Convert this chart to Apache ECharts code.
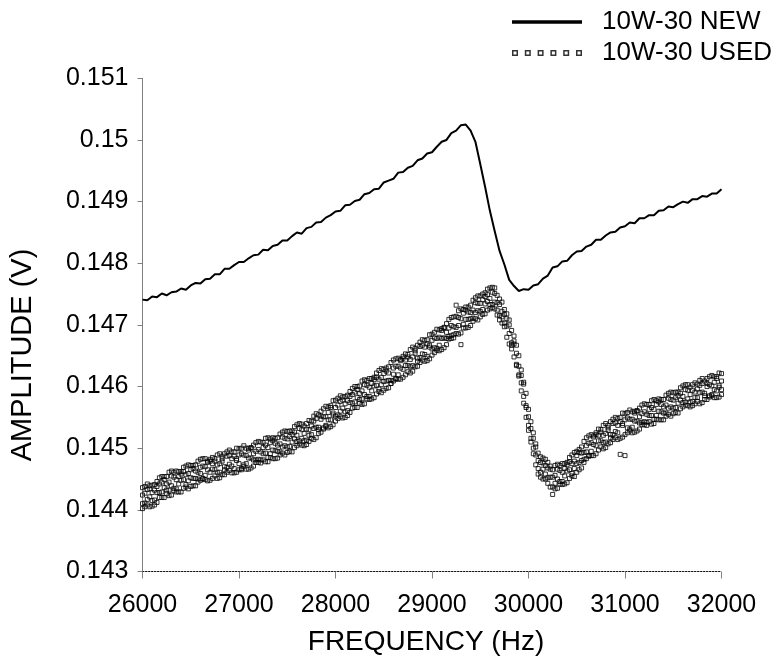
<!DOCTYPE html>
<html>
<head>
<meta charset="utf-8">
<script src="https://cdn.jsdelivr.net/npm/echarts@6/dist/echarts.min.js"></script>
<style>
html,body{margin:0;padding:0;background:#fff;}
#chart{width:783px;height:663px;}
</style>
</head>
<body>
<div id="chart"></div>
<script>
// ---- data ----
var seriesNames = ['10W-30 NEW', '10W-30 USED'];
var xTicks = [26000, 27000, 28000, 29000, 30000, 31000, 32000];
var yTicks = [0.143, 0.144, 0.145, 0.146, 0.147, 0.148, 0.149, 0.15, 0.151];

var newFreq = [26000,26050,26100,26150,26200,26250,26300,26350,26400,26450,
26500,26550,26600,26650,26700,26750,26800,26850,26900,26950,
27000,27050,27100,27150,27200,27250,27300,27350,27400,27450,
27500,27550,27600,27650,27700,27750,27800,27850,27900,27950,
28000,28050,28100,28150,28200,28250,28300,28350,28400,28450,
28500,28550,28600,28650,28700,28750,28800,28850,28900,28950,
29000,29050,29100,29150,29200,29250,29300,29350,29400,29450,
29500,29550,29600,29650,29700,29750,29800,29850,29900,29950,
30000,30050,30100,30150,30200,30250,30300,30350,30400,30450,
30500,30550,30600,30650,30700,30750,30800,30850,30900,30950,
31000,31050,31100,31150,31200,31250,31300,31350,31400,31450,
31500,31550,31600,31650,31700,31750,31800,31850,31900,31950,
32000];

var newAmp = [0.14741,0.14740,0.14746,0.14745,0.14751,0.14748,0.14753,0.14754,0.14759,0.14757,
0.14764,0.14768,0.14767,0.14774,0.14775,0.14782,0.14782,0.14791,0.14791,0.14797,
0.14802,0.14802,0.14808,0.14813,0.14814,0.14822,0.14821,0.14828,0.14830,0.14837,
0.14837,0.14844,0.14850,0.14848,0.14857,0.14859,0.14866,0.14867,0.14874,0.14878,
0.14884,0.14885,0.14894,0.14895,0.14901,0.14903,0.14912,0.14914,0.14920,0.14921,
0.14931,0.14934,0.14937,0.14947,0.14948,0.14955,0.14958,0.14967,0.14970,0.14978,
0.14980,0.14989,0.14997,0.15000,0.15011,0.15015,0.15024,0.15025,0.15015,0.14997,
0.14961,0.14924,0.14885,0.14852,0.14820,0.14798,0.14773,0.14763,0.14755,0.14758,
0.14757,0.14764,0.14766,0.14775,0.14780,0.14793,0.14795,0.14803,0.14804,0.14813,
0.14819,0.14820,0.14827,0.14830,0.14838,0.14838,0.14845,0.14850,0.14851,0.14858,
0.14860,0.14866,0.14865,0.14873,0.14873,0.14878,0.14878,0.14885,0.14886,0.14892,
0.14891,0.14896,0.14900,0.14898,0.14904,0.14904,0.14909,0.14908,0.14913,0.14913,
0.14920];

var usedFreq = [26000,26025,26050,26075,26100,26125,26150,26175,26200,26225,
26250,26275,26300,26325,26350,26375,26400,26425,26450,26475,
26500,26525,26550,26575,26600,26625,26650,26675,26700,26725,
26750,26775,26800,26825,26850,26875,26900,26925,26950,26975,
27000,27025,27050,27075,27100,27125,27150,27175,27200,27225,
27250,27275,27300,27325,27350,27375,27400,27425,27450,27475,
27500,27525,27550,27575,27600,27625,27650,27675,27700,27725,
27750,27775,27800,27825,27850,27875,27900,27925,27950,27975,
28000,28025,28050,28075,28100,28125,28150,28175,28200,28225,
28250,28275,28300,28325,28350,28375,28400,28425,28450,28475,
28500,28525,28550,28575,28600,28625,28650,28675,28700,28725,
28750,28775,28800,28825,28850,28875,28900,28925,28950,28975,
29000,29025,29050,29075,29100,29125,29150,29175,29200,29225,
29250,29275,29300,29325,29350,29375,29400,29425,29450,29475,
29500,29525,29550,29575,29600,29625,29650,29675,29700,29725,
29750,29775,29800,29825,29850,29875,29900,29925,29950,29975,
30000,30025,30050,30075,30100,30125,30150,30175,30200,30225,
30250,30275,30300,30325,30350,30375,30400,30425,30450,30475,
30500,30525,30550,30575,30600,30625,30650,30675,30700,30725,
30750,30775,30800,30825,30850,30875,30900,30925,30950,30975,
31000,31025,31050,31075,31100,31125,31150,31175,31200,31225,
31250,31275,31300,31325,31350,31375,31400,31425,31450,31475,
31500,31525,31550,31575,31600,31625,31650,31675,31700,31725,
31750,31775,31800,31825,31850,31875,31900,31925,31950,31975,
32000];

// four readings of the used oil at each frequency
var usedAmpA = [0.14424,0.14411,0.14433,0.14421,0.14428,0.14416,0.14438,0.14428,0.14445,0.14436,
0.14432,0.14445,0.14455,0.14435,0.14449,0.14442,0.14458,0.14449,0.14441,0.14459,
0.14452,0.14467,0.14451,0.14461,0.14469,0.14451,0.14470,0.14477,0.14461,0.14466,
0.14479,0.14461,0.14475,0.14479,0.14465,0.14487,0.14474,0.14471,0.14487,0.14480,
0.14475,0.14491,0.14473,0.14488,0.14484,0.14500,0.14481,0.14495,0.14482,0.14494,
0.14501,0.14492,0.14485,0.14509,0.14497,0.14508,0.14495,0.14507,0.14518,0.14504,
0.14515,0.14503,0.14522,0.14515,0.14511,0.14532,0.14516,0.14512,0.14531,0.14530,
0.14522,0.14544,0.14534,0.14534,0.14552,0.14533,0.14551,0.14558,0.14546,0.14557,
0.14566,0.14554,0.14576,0.14565,0.14572,0.14561,0.14584,0.14573,0.14591,0.14582,
0.14579,0.14593,0.14603,0.14584,0.14599,0.14593,0.14611,0.14602,0.14596,0.14615,
0.14608,0.14625,0.14610,0.14605,0.14630,0.14613,0.14633,0.14642,0.14628,0.14634,
0.14648,0.14632,0.14648,0.14654,0.14641,0.14665,0.14653,0.14652,0.14669,0.14664,
0.14661,0.14679,0.14662,0.14680,0.14678,0.14695,0.14678,0.14695,0.14683,0.14697,
0.14732,0.14699,0.14668,0.14719,0.14709,0.14721,0.14710,0.14724,0.14736,0.14723,
0.14735,0.14725,0.14746,0.14738,0.14733,0.14753,0.14737,0.14724,0.14733,0.14722,
0.14703,0.14710,0.14686,0.14671,0.14674,0.14636,0.14633,0.14618,0.14584,0.14569,
0.14551,0.14516,0.14516,0.14489,0.14480,0.14461,0.14476,0.14458,0.14468,0.14453,
0.14425,0.14456,0.14466,0.14446,0.14461,0.14455,0.14473,0.14465,0.14459,0.14479,
0.14475,0.14493,0.14480,0.14493,0.14504,0.14488,0.14509,0.14518,0.14504,0.14512,
0.14526,0.14509,0.14524,0.14529,0.14517,0.14540,0.14527,0.14525,0.14543,0.14537,
0.14488,0.14549,0.14531,0.14547,0.14544,0.14560,0.14541,0.14556,0.14543,0.14555,
0.14563,0.14553,0.14547,0.14571,0.14560,0.14571,0.14557,0.14570,0.14581,0.14567,
0.14578,0.14566,0.14585,0.14578,0.14574,0.14595,0.14580,0.14575,0.14594,0.14591,
0.14582,0.14602,0.14591,0.14589,0.14605,0.14585,0.14601,0.14607,0.14593,0.14602,
0.14609];

var usedAmpB = [0.14410,0.14427,0.14417,0.14434,0.14415,0.14432,0.14428,0.14442,0.14429,0.14449,
0.14442,0.14432,0.14439,0.14453,0.14434,0.14454,0.14448,0.14462,0.14457,0.14447,
0.14465,0.14451,0.14463,0.14450,0.14459,0.14471,0.14456,0.14465,0.14479,0.14475,
0.14465,0.14473,0.14461,0.14483,0.14470,0.14469,0.14488,0.14483,0.14467,0.14483,
0.14489,0.14465,0.14489,0.14475,0.14497,0.14484,0.14491,0.14481,0.14498,0.14481,
0.14491,0.14505,0.14501,0.14491,0.14512,0.14496,0.14505,0.14494,0.14502,0.14516,
0.14502,0.14519,0.14510,0.14526,0.14521,0.14512,0.14530,0.14524,0.14513,0.14521,
0.14536,0.14532,0.14548,0.14530,0.14547,0.14551,0.14537,0.14546,0.14566,0.14554,
0.14552,0.14570,0.14560,0.14578,0.14559,0.14577,0.14574,0.14587,0.14575,0.14595,
0.14589,0.14580,0.14587,0.14602,0.14584,0.14605,0.14601,0.14615,0.14612,0.14603,
0.14621,0.14609,0.14622,0.14610,0.14620,0.14633,0.14619,0.14630,0.14646,0.14643,
0.14634,0.14644,0.14634,0.14658,0.14646,0.14647,0.14667,0.14664,0.14649,0.14667,
0.14675,0.14663,0.14678,0.14667,0.14691,0.14679,0.14688,0.14681,0.14699,0.14684,
0.14696,0.14712,0.14710,0.14701,0.14724,0.14709,0.14720,0.14711,0.14720,0.14735,
0.14722,0.14741,0.14734,0.14749,0.14743,0.14733,0.14751,0.14736,0.14715,0.14713,
0.14717,0.14698,0.14700,0.14667,0.14669,0.14654,0.14619,0.14606,0.14604,0.14566,
0.14537,0.14532,0.14500,0.14502,0.14467,0.14477,0.14466,0.14472,0.14452,0.14466,
0.14453,0.14443,0.14450,0.14464,0.14446,0.14467,0.14463,0.14478,0.14475,0.14467,
0.14488,0.14477,0.14492,0.14482,0.14494,0.14508,0.14495,0.14506,0.14522,0.14521,
0.14512,0.14521,0.14510,0.14533,0.14522,0.14522,0.14541,0.14537,0.14490,0.14540,
0.14546,0.14533,0.14547,0.14534,0.14557,0.14544,0.14551,0.14542,0.14559,0.14542,
0.14553,0.14566,0.14563,0.14553,0.14575,0.14559,0.14567,0.14557,0.14565,0.14579,
0.14565,0.14582,0.14573,0.14589,0.14584,0.14575,0.14594,0.14587,0.14576,0.14582,
0.14596,0.14590,0.14605,0.14585,0.14600,0.14603,0.14587,0.14595,0.14613,0.14599,
0.14595];

var usedAmpC = [0.14436,0.14405,0.14442,0.14405,0.14440,0.14408,0.14446,0.14420,0.14454,0.14420,
0.14454,0.14423,0.14463,0.14431,0.14463,0.14429,0.14462,0.14435,0.14471,0.14434,
0.14472,0.14439,0.14473,0.14445,0.14482,0.14450,0.14483,0.14447,0.14482,0.14451,
0.14483,0.14451,0.14491,0.14457,0.14491,0.14461,0.14497,0.14460,0.14494,0.14461,
0.14499,0.14467,0.14504,0.14466,0.14500,0.14468,0.14505,0.14477,0.14511,0.14476,
0.14509,0.14478,0.14517,0.14485,0.14517,0.14483,0.14517,0.14489,0.14526,0.14489,
0.14527,0.14495,0.14528,0.14501,0.14538,0.14507,0.14539,0.14504,0.14540,0.14511,
0.14544,0.14514,0.14556,0.14524,0.14560,0.14531,0.14568,0.14533,0.14569,0.14538,
0.14578,0.14548,0.14585,0.14549,0.14584,0.14553,0.14592,0.14565,0.14600,0.14566,
0.14601,0.14571,0.14611,0.14580,0.14613,0.14580,0.14615,0.14588,0.14626,0.14590,
0.14628,0.14597,0.14632,0.14605,0.14643,0.14612,0.14646,0.14612,0.14649,0.14619,
0.14652,0.14622,0.14664,0.14632,0.14667,0.14639,0.14676,0.14641,0.14676,0.14645,
0.14685,0.14655,0.14693,0.14658,0.14694,0.14663,0.14702,0.14677,0.14712,0.14679,
0.14714,0.14685,0.14726,0.14695,0.14729,0.14696,0.14732,0.14706,0.14744,0.14708,
0.14747,0.14717,0.14752,0.14724,0.14760,0.14728,0.14760,0.14716,0.14742,0.14703,
0.14725,0.14680,0.14708,0.14661,0.14682,0.14634,0.14650,0.14593,0.14607,0.14550,
0.14563,0.14510,0.14525,0.14473,0.14492,0.14453,0.14484,0.14450,0.14477,0.14437,
0.14465,0.14434,0.14474,0.14442,0.14475,0.14442,0.14477,0.14451,0.14489,0.14454,
0.14495,0.14465,0.14502,0.14477,0.14517,0.14487,0.14522,0.14488,0.14525,0.14497,
0.14530,0.14499,0.14540,0.14507,0.14543,0.14514,0.14550,0.14514,0.14550,0.14518,
0.14556,0.14525,0.14562,0.14525,0.14560,0.14528,0.14565,0.14538,0.14572,0.14537,
0.14571,0.14539,0.14579,0.14547,0.14580,0.14546,0.14579,0.14552,0.14589,0.14552,
0.14590,0.14558,0.14591,0.14564,0.14601,0.14570,0.14603,0.14567,0.14603,0.14572,
0.14604,0.14572,0.14613,0.14579,0.14613,0.14583,0.14618,0.14582,0.14616,0.14583,
0.14621];

var usedAmpD = [0.14402,0.14438,0.14408,0.14439,0.14406,0.14441,0.14412,0.14452,0.14420,0.14454,
0.14426,0.14461,0.14424,0.14461,0.14429,0.14462,0.14429,0.14469,0.14437,0.14473,
0.14438,0.14472,0.14439,0.14479,0.14448,0.14483,0.14449,0.14479,0.14448,0.14485,
0.14455,0.14489,0.14452,0.14487,0.14457,0.14494,0.14464,0.14494,0.14460,0.14500,
0.14465,0.14500,0.14470,0.14500,0.14466,0.14501,0.14471,0.14509,0.14477,0.14510,
0.14481,0.14516,0.14478,0.14515,0.14483,0.14516,0.14484,0.14523,0.14492,0.14528,
0.14493,0.14528,0.14494,0.14535,0.14504,0.14540,0.14505,0.14536,0.14506,0.14545,
0.14516,0.14552,0.14517,0.14554,0.14526,0.14564,0.14535,0.14567,0.14535,0.14577,
0.14544,0.14581,0.14551,0.14583,0.14550,0.14586,0.14558,0.14597,0.14566,0.14600,
0.14573,0.14609,0.14572,0.14610,0.14579,0.14613,0.14582,0.14622,0.14592,0.14629,
0.14594,0.14630,0.14598,0.14639,0.14609,0.14645,0.14612,0.14644,0.14615,0.14653,
0.14624,0.14660,0.14625,0.14662,0.14633,0.14672,0.14643,0.14675,0.14642,0.14684,
0.14651,0.14688,0.14659,0.14692,0.14660,0.14696,0.14668,0.14709,0.14678,0.14713,
0.14686,0.14723,0.14687,0.14725,0.14695,0.14729,0.14699,0.14740,0.14710,0.14747,
0.14713,0.14750,0.14718,0.14758,0.14726,0.14761,0.14726,0.14748,0.14708,0.14737,
0.14697,0.14718,0.14669,0.14691,0.14648,0.14667,0.14617,0.14627,0.14573,0.14589,
0.14529,0.14543,0.14491,0.14507,0.14458,0.14486,0.14450,0.14482,0.14443,0.14471,
0.14437,0.14472,0.14435,0.14472,0.14441,0.14475,0.14444,0.14485,0.14455,0.14493,
0.14461,0.14498,0.14468,0.14511,0.14483,0.14520,0.14488,0.14520,0.14491,0.14531,
0.14502,0.14537,0.14501,0.14537,0.14509,0.14547,0.14517,0.14548,0.14516,0.14557,
0.14522,0.14558,0.14528,0.14559,0.14526,0.14561,0.14531,0.14570,0.14538,0.14571,
0.14543,0.14577,0.14540,0.14577,0.14546,0.14579,0.14546,0.14586,0.14555,0.14591,
0.14556,0.14591,0.14557,0.14598,0.14567,0.14603,0.14569,0.14599,0.14569,0.14606,
0.14576,0.14610,0.14574,0.14609,0.14579,0.14616,0.14585,0.14616,0.14582,0.14622,
0.14587];

// ---- build chart ----
var newData = newFreq.map(function (f, i) { return [f, newAmp[i]]; });
var usedData = [];
[usedAmpA, usedAmpB, usedAmpC, usedAmpD].forEach(function (arr) {
  usedFreq.forEach(function (f, i) { usedData.push([f, arr[i]]); });
});

var tickFont = '"Liberation Sans", Arial, sans-serif';
var titleFont = '"Liberation Sans", Arial, sans-serif';

// legend icons
var lineIcon = 'path://M0,0L70,0L70,3.5L0,3.5Z';
var sq = '';
for (var k = 0; k < 6; k++) {
  var x0 = k * 12.8;
  sq += 'M' + x0 + ',0L' + (x0 + 6) + ',0L' + (x0 + 6) + ',6L' + x0 + ',6Z';
  sq += 'M' + (x0 + 1.5) + ',1.5L' + (x0 + 1.5) + ',4.5L' + (x0 + 4.5) + ',4.5L' + (x0 + 4.5) + ',1.5Z';
}
var squaresIcon = 'path://' + sq;

var chart = echarts.init(document.getElementById('chart'), null, { renderer: 'canvas' });
chart.setOption({
  animation: false,
  backgroundColor: '#fff',
  grid: { left: 142.5, right: 61.5, top: 78.3, bottom: 91.5 },
  legend: {
    orient: 'vertical',
    left: 512,
    top: 9,
    padding: 0,
    itemWidth: 70,
    itemHeight: 6,
    itemGap: 5,
    selectedMode: false,
    textStyle: { fontFamily: titleFont, fontSize: 26, color: '#000', padding: [0, 0, 0, 15] },
    data: [
      { name: seriesNames[0], icon: lineIcon, itemStyle: { color: '#000', borderWidth: 0 } },
      { name: seriesNames[1], icon: squaresIcon, itemStyle: { color: '#000', borderWidth: 0 } }
    ]
  },
  xAxis: {
    type: 'value',
    min: xTicks[0],
    max: xTicks[xTicks.length - 1],
    interval: 1000,
    axisLine: { show: true, onZero: false, lineStyle: { color: '#111', width: 1, type: [1.5, 1.5] } },
    axisTick: { show: true, inside: false, length: 7, lineStyle: { color: '#808080' } },
    axisLabel: { fontFamily: tickFont, fontSize: 25, color: '#000', margin: 21,
      formatter: function (v) { return String(v); } },
    splitLine: { show: false }
  },
  yAxis: {
    type: 'value',
    min: yTicks[0],
    max: yTicks[yTicks.length - 1],
    interval: 0.001,
    axisLine: { show: true, lineStyle: { color: '#808080', width: 1 } },
    axisTick: { show: true, inside: false, length: 5, lineStyle: { color: '#808080' } },
    axisLabel: { fontFamily: tickFont, fontSize: 25, color: '#000', margin: 14,
      formatter: function (v) { return String(Math.round(v * 1000) / 1000); } },
    splitLine: { show: false }
  },
  graphic: [
    { type: 'text', x: 426, y: 642, style: { text: 'FREQUENCY (Hz)', fontFamily: titleFont, fontSize: 28, fill: '#000', textAlign: 'center', textVerticalAlign: 'middle' } },
    { type: 'text', x: 23, y: 355, rotation: Math.PI / 2, style: { text: 'AMPLITUDE (V)', fontFamily: titleFont, fontSize: 29, fill: '#000', textAlign: 'center', textVerticalAlign: 'middle' } }
  ],
  series: [
    {
      name: seriesNames[0],
      type: 'line',
      data: newData,
      showSymbol: false,
      symbol: 'none',
      lineStyle: { color: '#000', width: 2 },
      itemStyle: { color: '#000' },
      z: 3
    },
    {
      name: seriesNames[1],
      type: 'scatter',
      data: usedData,
      symbol: 'rect',
      symbolSize: 4,
      itemStyle: { color: 'rgba(255,255,255,0)', borderColor: '#000', borderWidth: 1 },
      z: 2
    }
  ]
});
</script>
</body>
</html>
